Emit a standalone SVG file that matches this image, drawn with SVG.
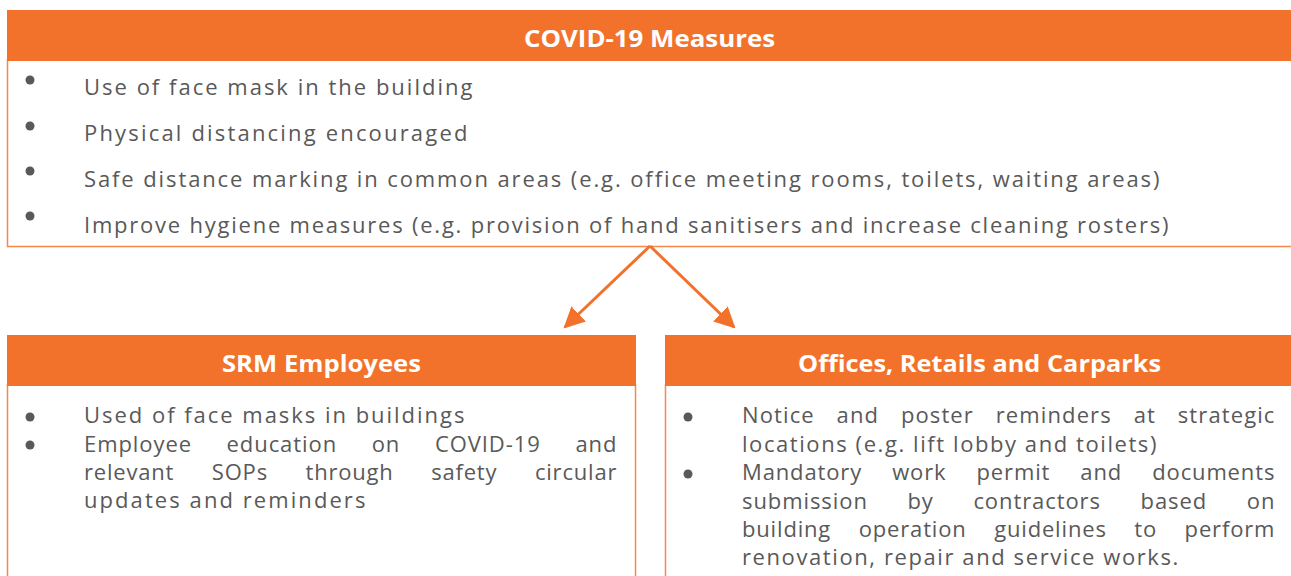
<svg xmlns="http://www.w3.org/2000/svg" width="1291" height="576" viewBox="0 0 1291 576">
<defs>
<style>
.hdr{fill:#F2722B}
.body{fill:#FFFFFF;stroke:#F4894B;stroke-width:1.5}
.ht{font-family:"Open Sans","Liberation Sans",sans-serif;font-weight:bold;font-size:22.5px;fill:#FFFFFF}
.t{font-family:"Open Sans","Liberation Sans",sans-serif;font-size:22px;fill:#595959;letter-spacing:0.6px}
.b{fill:#595959}
.conn{stroke:#F2722B;stroke-width:3;fill:none}
</style>
<marker id="ah" viewBox="0 0 10 10" refX="9" refY="5" markerWidth="7" markerHeight="7" markerUnits="strokeWidth" orient="auto">
<path d="M0,0 L10,5 L0,10 Z" fill="#F2722B"/>
</marker>
</defs>
<rect width="1291" height="576" fill="#FFFFFF"/>

<g id="covid-measures">
<rect class="body" x="7.5" y="60" width="1290" height="186.5"/>
<rect class="hdr" x="7" y="10" width="1284" height="51"/>
<text class="ht" x="524" y="47" textLength="251" lengthAdjust="spacingAndGlyphs">COVID-19 Measures</text>
<circle class="b" cx="30" cy="80" r="4.5"/>
<circle class="b" cx="30" cy="126" r="4.5"/>
<circle class="b" cx="30" cy="171" r="4.5"/>
<circle class="b" cx="30" cy="216" r="4.5"/>
<text class="t" x="84" y="95" textLength="389" lengthAdjust="spacing">Use of face mask in the building</text>
<text class="t" x="84" y="141" textLength="384" lengthAdjust="spacing">Physical distancing encouraged</text>
<text class="t" x="84" y="187" textLength="1076" lengthAdjust="spacing">Safe distance marking in common areas (e.g. office meeting rooms, toilets, waiting areas)</text>
<text class="t" x="84" y="233" textLength="1085" lengthAdjust="spacing">Improve hygiene measures (e.g. provision of hand sanitisers and increase cleaning rosters)</text>
</g>

<g id="connectors">
<line class="conn" x1="650" y1="246" x2="565" y2="327" marker-end="url(#ah)"/>
<line class="conn" x1="650" y1="246" x2="734" y2="327" marker-end="url(#ah)"/>
</g>

<g id="srm-employees">
<rect class="body" x="7.5" y="385" width="628" height="200"/>
<rect class="hdr" x="7" y="335" width="629" height="51"/>
<text class="ht" x="222" y="372" textLength="199" lengthAdjust="spacingAndGlyphs">SRM Employees</text>
<circle class="b" cx="30" cy="417" r="4.5"/>
<circle class="b" cx="30" cy="445" r="4.5"/>
<text class="t" x="84" y="423" textLength="381" lengthAdjust="spacing">Used of face masks in buildings</text>
<text class="t" x="84" y="452" style="word-spacing:28px" textLength="533" lengthAdjust="spacing">Employee education on COVID-19 and</text>
<text class="t" x="84" y="480" style="word-spacing:31px" textLength="533" lengthAdjust="spacing">relevant SOPs through safety circular</text>
<text class="t" x="84" y="508" textLength="282" lengthAdjust="spacing">updates and reminders</text>
</g>

<g id="offices-retails-carparks">
<rect class="body" x="665.5" y="385" width="640" height="200"/>
<rect class="hdr" x="665" y="335" width="626" height="51"/>
<text class="ht" x="798" y="372" textLength="363" lengthAdjust="spacingAndGlyphs">Offices, Retails and Carparks</text>
<circle class="b" cx="688" cy="417" r="4.5"/>
<circle class="b" cx="688" cy="474" r="4.5"/>
<text class="t" x="742" y="423" style="word-spacing:15px" textLength="533" lengthAdjust="spacing">Notice and poster reminders at strategic</text>
<text class="t" x="742" y="452" textLength="415" lengthAdjust="spacing">locations (e.g. lift lobby and toilets)</text>
<text class="t" x="742" y="480" style="word-spacing:23.5px" textLength="533" lengthAdjust="spacing">Mandatory work permit and documents</text>
<text class="t" x="742" y="509" style="word-spacing:33px" textLength="533" lengthAdjust="spacing">submission by contractors based on</text>
<text class="t" x="742" y="537" style="word-spacing:21px" textLength="533" lengthAdjust="spacing">building operation guidelines to perform</text>
<text class="t" x="742" y="565" textLength="437" lengthAdjust="spacing">renovation, repair and service works.</text>
</g>
</svg>
